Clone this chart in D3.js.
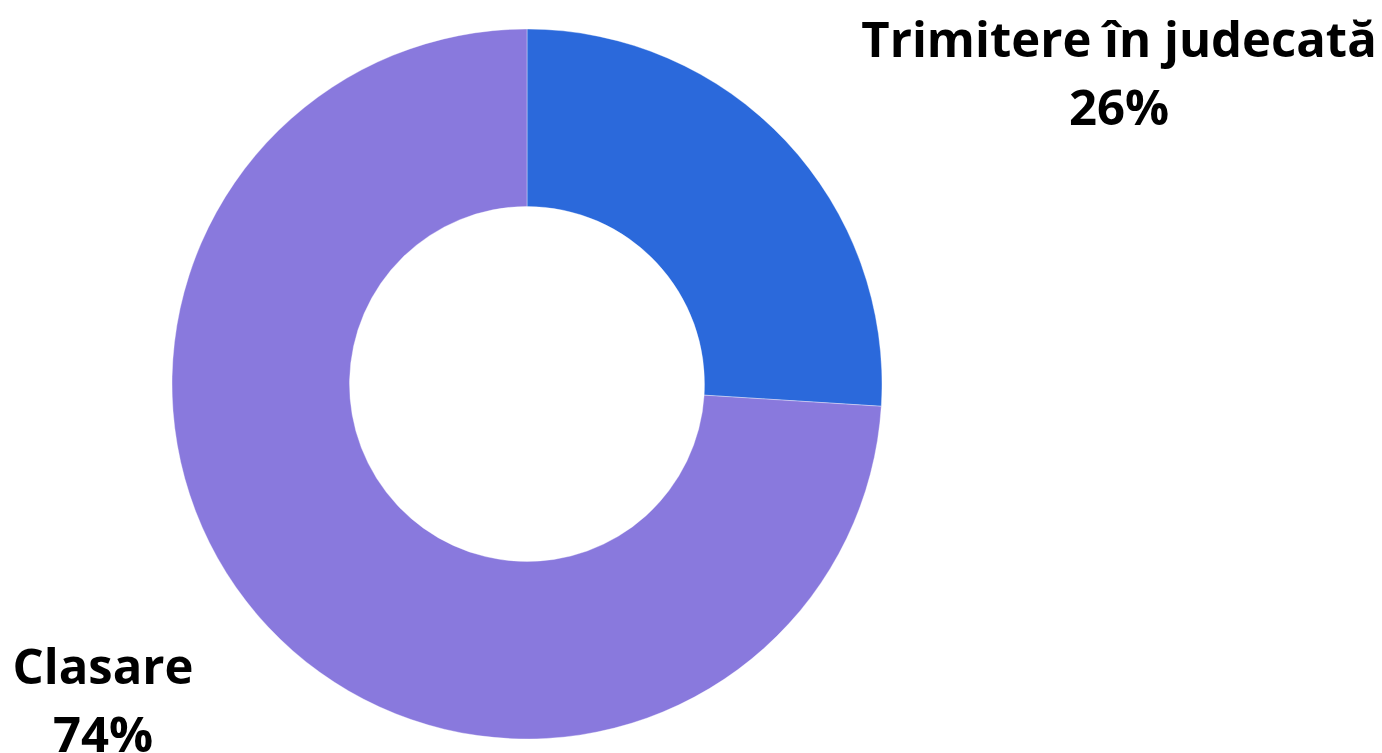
<!DOCTYPE html>
<html><head><meta charset="utf-8">
<script src="https://cdn.jsdelivr.net/npm/d3@7"></script>
<style>body{margin:0;background:#fff;overflow:hidden}svg{display:block}</style>
</head><body>
<svg id="chart" width="1382" height="753"></svg>
<script>
const categories = ["Trimitere în judecată", "Clasare"];
const values = [26, 74];
const colors = ["#2b69db", "#8979dd"];

const svg = d3.select("#chart");
const cx = 527, cy = 384, rOuter = 355, rInner = 177.5;
const g = svg.append("g").attr("transform", `translate(${cx},${cy})`);
const pie = d3.pie().sort(null).value(d => d)(values);
const arc = d3.arc().innerRadius(rInner).outerRadius(rOuter);
g.selectAll("path").data(pie).join("path")
  .attr("d", arc)
  .attr("fill", (d, i) => colors[i])
  .attr("stroke", "#ffffff").attr("stroke-width", 0.6).attr("stroke-opacity", 0.6);

const labelPos = [{x: 1119, y: 57}, {x: 103, y: 684}];
const lab = svg.selectAll("text.lbl").data(categories).join("text")
  .attr("class", "lbl")
  .attr("text-anchor", "middle")
  .attr("font-family", "'Open Sans', sans-serif")
  .attr("font-weight", 700)
  .attr("font-size", 49)
  .attr("fill", "#000");
lab.append("tspan").attr("x", (d, i) => labelPos[i].x).attr("y", (d, i) => labelPos[i].y).text(d => d);
lab.append("tspan").attr("x", (d, i) => labelPos[i].x).attr("y", (d, i) => labelPos[i].y + 68).text((d, i) => values[i] + "%");
</script>
</body></html>
